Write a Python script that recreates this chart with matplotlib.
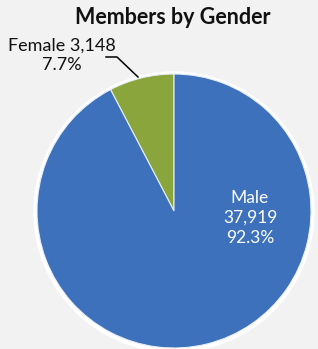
import matplotlib.pyplot as plt
from matplotlib.patches import Circle

# Data
labels = ['Female', 'Male']
members = [3148, 37919]
colors = ['#8BA53D', '#3D71BC']

total = sum(members)
pcts = [m / total * 100 for m in members]

plt.rcParams['font.family'] = ['Lato', 'DejaVu Sans']

fig = plt.figure(figsize=(3.18, 3.49), dpi=100)
fig.patch.set_facecolor('#F2F2F2')
ax = fig.add_axes([0, 0, 1, 1])

cx, cy, r = 174, 138, 137

# soft white rim behind the pie
ax.add_patch(Circle((cx, cy - 1), r + 3, color='white', zorder=0))

wedges, _ = ax.pie(members, colors=colors, startangle=90, counterclock=True,
                   center=(cx, cy), radius=r, frame=True,
                   wedgeprops=dict(edgecolor='#E8EEF6', linewidth=0.8))
ax.set_xlim(0, 318)
ax.set_ylim(0, 349)
ax.axis('off')

ax.text(173, 331, 'Members by Gender', ha='center', va='center',
        fontsize=15.5, fontweight='bold', color='#111111')

# Female label with leader line
ax.text(62, 294, f'{labels[0]} {members[0]:,}\n{pcts[0]:.1f}%', ha='center',
        va='center', fontsize=13, color='#111111', linespacing=1.25)
ax.plot([106, 117, 138], [292, 292, 272], color='black', lw=1.1)

# Male label inside the slice
ax.text(250, 131, f'{labels[1]}\n{members[1]:,}\n{pcts[1]:.1f}%', ha='center',
        va='center', fontsize=12.5, color='white', linespacing=1.3)

fig.savefig('out.png', dpi=100, facecolor=fig.get_facecolor())
